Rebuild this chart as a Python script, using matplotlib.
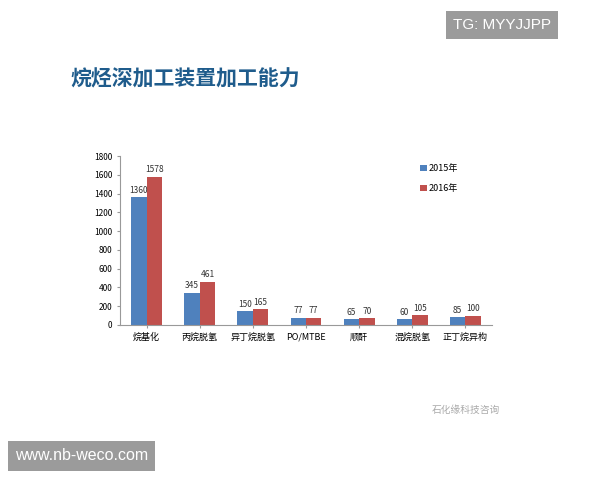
import matplotlib.pyplot as plt
import numpy as np

plt.rcParams['font.family'] = ['Noto Sans CJK SC', 'DejaVu Sans']

categories = ['烷基化', '丙烷脱氢', '异丁烷脱氢', 'PO/MTBE', '顺酐', '混烷脱氢', '正丁烷异构']
v2015 = [1360, 345, 150, 77, 65, 60, 85]
v2016 = [1578, 461, 165, 77, 70, 105, 100]

fig = plt.figure(figsize=(6, 4.8), dpi=100)
fig.patch.set_facecolor('white')

fig.text(0.118, 0.835, '烷烃深加工装置加工能力', fontsize=15, color='#1F5C8C',
         fontweight='bold', va='center')

ax = fig.add_axes([0.2, 0.323, 0.62, 0.352])
x = np.arange(len(categories))
w = 0.29
b1 = ax.bar(x - w / 2, v2015, w, color='#4F81BD', label='2015年')
b2 = ax.bar(x + w / 2, v2016, w, color='#C0504D', label='2016年')
for bars in (b1, b2):
    for r in bars:
        ax.text(r.get_x() + r.get_width() / 2, r.get_height() + 25, str(int(r.get_height())),
                ha='center', va='bottom', fontsize=6, color='#333333')

ax.set_ylim(0, 1800)
ax.set_yticks(range(0, 1801, 200))
ax.set_xlim(-0.5, len(categories) - 0.5)
ax.set_xticks(x)
ax.set_xticklabels(categories, fontsize=6.5)
ax.tick_params(axis='y', labelsize=6)
ax.tick_params(length=2, color='#999999')
for s in ['top', 'right']:
    ax.spines[s].set_visible(False)
for s in ['left', 'bottom']:
    ax.spines[s].set_color('#999999')
ax.legend(loc='upper right', bbox_to_anchor=(0.93, 1.0), frameon=False, fontsize=6.5,
          handlelength=0.7, handleheight=0.7, handletextpad=0.2, labelspacing=1.2)

# watermark labels
fig.text(0.755, 0.948, 'TG: MYYJJPP', fontsize=11, color='white', va='center',
         family='Liberation Sans',
         bbox=dict(boxstyle='square,pad=0.45', fc='#8a8a8a', ec='none', alpha=0.85))
fig.text(0.025, 0.05, 'www.nb-weco.com', fontsize=11.5, color='white', va='center',
         family='Liberation Sans',
         bbox=dict(boxstyle='square,pad=0.45', fc='#8a8a8a', ec='none', alpha=0.85))
fig.text(0.72, 0.145, '石化缘科技咨询', fontsize=7, color='#aaaaaa', va='center')

fig.savefig('out.png', dpi=100)
